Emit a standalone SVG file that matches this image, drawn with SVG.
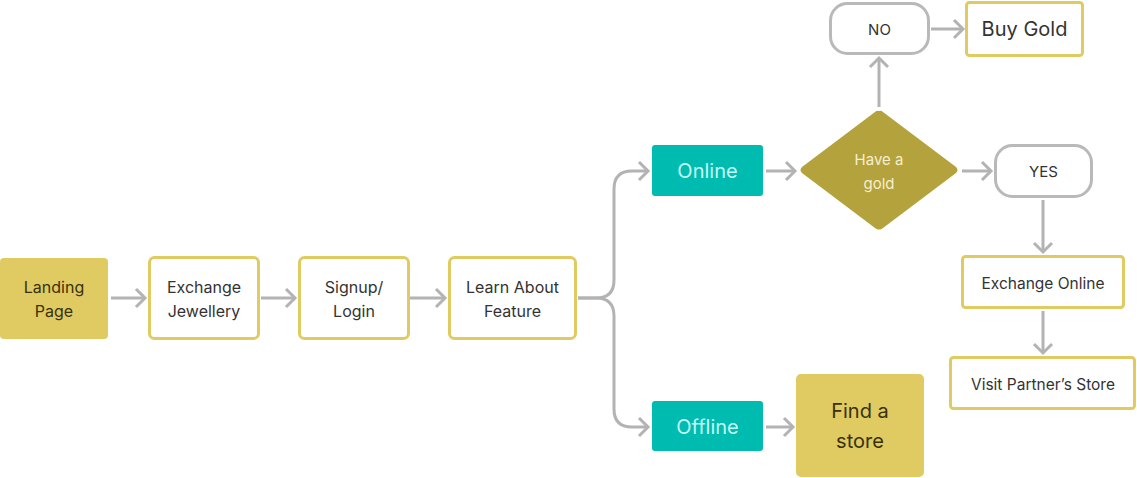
<svg xmlns="http://www.w3.org/2000/svg" width="1137" height="478" viewBox="0 0 1137 478">
<style>
text{font-family:Inter,"Liberation Sans",sans-serif;text-anchor:middle;dominant-baseline:central}
.gold{fill:#dfcb62}
.box{fill:#fff;stroke:#dfcb62;stroke-width:3}
.pill{fill:#fff;stroke:#b9b9b9;stroke-width:3}
.teal{fill:#00bcb0}
.t{fill:#333;font-size:16px}
.tb{fill:#3a300a;font-size:16px}
.tl{fill:#c4fbf6;font-size:20px}
.c{fill:none;stroke:#b3b3b3;stroke-width:3}
</style>
<defs>
<marker id="ah" markerUnits="userSpaceOnUse" markerWidth="14" markerHeight="22" refX="11" refY="11" orient="auto">
<path d="M2,2 L11,11 L2,20" fill="none" stroke="#b3b3b3" stroke-width="3"/>
</marker>
</defs>
<g id="connectors">
<path class="c" d="M111 298 H145" marker-end="url(#ah)"/>
<path class="c" d="M261 298 H295" marker-end="url(#ah)"/>
<path class="c" d="M410 298 H445" marker-end="url(#ah)"/>
<path class="c" d="M578 298 H596 Q614 298 614 280 V189 Q614 171 632 171 H648" marker-end="url(#ah)"/>
<path class="c" d="M578 298 H596 Q614 298 614 316 V409 Q614 427 632 427 H648" marker-end="url(#ah)"/>
<path class="c" d="M766 171 H795" marker-end="url(#ah)"/>
<path class="c" d="M766 427 H793" marker-end="url(#ah)"/>
<path class="c" d="M879 107 V58" marker-end="url(#ah)"/>
<path class="c" d="M931 29 H963" marker-end="url(#ah)"/>
<path class="c" d="M962 171 H991" marker-end="url(#ah)"/>
<path class="c" d="M1043 200 V252" marker-end="url(#ah)"/>
<path class="c" d="M1043 311 V353" marker-end="url(#ah)"/>
</g>
<g id="landing">
<rect class="gold" x="0" y="258" width="108" height="81" rx="4"/>
<text class="tb" x="54" y="287">Landing</text>
<text class="tb" x="54" y="311">Page</text>
</g>
<g id="exchange-jewellery">
<rect class="box" x="149.5" y="257.5" width="109" height="81" rx="5"/>
<text class="t" x="204" y="287">Exchange</text>
<text class="t" x="204" y="311">Jewellery</text>
</g>
<g id="signup">
<rect class="box" x="299.5" y="257.5" width="109" height="81" rx="5"/>
<text class="t" x="354" y="287">Signup/</text>
<text class="t" x="354" y="311">Login</text>
</g>
<g id="learn">
<rect class="box" x="449.5" y="257.5" width="126" height="81" rx="5"/>
<text class="t" x="512.5" y="287">Learn About</text>
<text class="t" x="512.5" y="311">Feature</text>
</g>
<g id="online">
<rect class="teal" x="652" y="145" width="111" height="51" rx="3"/>
<text class="tl" x="707.5" y="171">Online</text>
</g>
<g id="offline">
<rect class="teal" x="652" y="401" width="111" height="50" rx="3"/>
<text class="tl" x="707.5" y="427">Offline</text>
</g>
<g id="have-gold">
<path d="M879 111 Q881 110 883 112 L956 167 Q959 170 956 173 L883 228 Q879 231 875 228 L802 173 Q799 170 802 167 L875 112 Q877 110 879 111 Z" fill="#b4a23c"/>
<text x="879" y="159" fill="#f5efcf" font-size="15">Have a</text>
<text x="879" y="183" fill="#f5efcf" font-size="15">gold</text>
</g>
<g id="no">
<rect class="pill" x="830.5" y="3.5" width="98" height="50" rx="17"/>
<text class="t" x="879.5" y="29" font-size="15" style="font-size:15px">NO</text>
</g>
<g id="buy-gold">
<rect class="box" x="966.5" y="2.5" width="116" height="53" rx="3"/>
<text class="t" x="1024.5" y="29" style="font-size:20px">Buy Gold</text>
</g>
<g id="yes">
<rect class="pill" x="995.5" y="145.5" width="96" height="51" rx="17"/>
<text class="t" x="1043.5" y="171" style="font-size:15px">YES</text>
</g>
<g id="exchange-online">
<rect class="box" x="962.5" y="256.5" width="161" height="51" rx="3"/>
<text class="t" x="1043" y="283" style="font-size:15.5px">Exchange Online</text>
</g>
<g id="visit-store">
<rect class="box" x="950.5" y="357.5" width="184" height="51" rx="3"/>
<text class="t" x="1043" y="384" style="font-size:15.5px">Visit Partner’s Store</text>
</g>
<g id="find-store">
<rect class="gold" x="796" y="374" width="128" height="103" rx="5"/>
<text class="tb" x="860" y="411" style="font-size:20px">Find a</text>
<text class="tb" x="860" y="441" style="font-size:20px">store</text>
</g>
</svg>
